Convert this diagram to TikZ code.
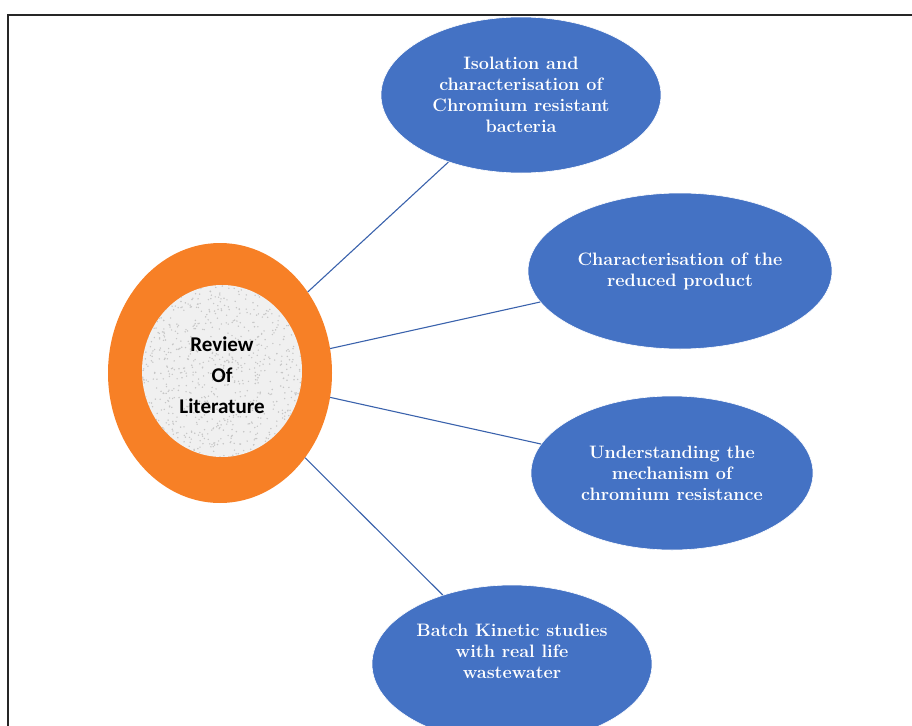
\documentclass[tikz,border=0pt]{standalone}
\usepackage{fontspec}
\newfontfamily\hubfont{Carlito}
\usetikzlibrary{shapes.geometric}
\definecolor{topicblue}{RGB}{68,114,196}
\definecolor{huborange}{RGB}{247,128,38}
\definecolor{linkblue}{RGB}{58,98,172}

\begin{document}
\begin{tikzpicture}[x=1pt,y=-1pt,
    topic/.style={ellipse,fill=topicblue,draw=white,line width=0.6pt,inner sep=0pt,
      text=white,align=center,font=\fontsize{18}{21}\selectfont\bfseries},
    link/.style={draw=linkblue,line width=1.1pt}]
    \useasboundingbox (0,0) rectangle (912,725);
    \clip (0,0) rectangle (912,725);

    % frame
    \draw [line width=2pt,black!85] (8,15) rectangle (940,760);

    % centre: orange ring with speckled disc
    \node [ellipse,fill=huborange,minimum width=224pt,minimum height=260pt] (review) at (220,373) {};
    \fill [gray!12] (222,371) ellipse (80 and 86);
    \begin{scope}
      \clip (222,371) ellipse (80 and 86);
      \pgfmathsetseed{7}
      \foreach \i in {1,...,900}
        \fill [gray!45] (142+160*rnd,285+172*rnd) circle (0.8);
    \end{scope}
    \node [font=\hubfont\bfseries\fontsize{21}{31}\selectfont,align=center] (reviewtext) at (222,375) {Review\\Of\\Literature};

    % topics
    \node [topic,minimum width=280pt,minimum height=156pt] (isolation) at (521,95)
      {Isolation and\\characterisation of\\Chromium resistant\\bacteria};
    \node [topic,minimum width=304pt,minimum height=156pt] (product) at (680,271)
      {Characterisation of the\\reduced product};
    \node [topic,minimum width=282pt,minimum height=154pt] (mechanism) at (672,473)
      {Understanding the\\mechanism of\\chromium resistance};
    \node [topic,minimum width=280pt,minimum height=158pt] (batch) at (512,664) {};
    \node [text=white,align=center,font=\fontsize{18}{21}\selectfont\bfseries] (batchtext) at (512,651)
      {Batch Kinetic studies\\with real life\\wastewater};

    % connectors
    \draw [link] (review) -- (isolation);
    \draw [link] (review) -- (product);
    \draw [link] (review) -- (mechanism);
    \draw [link] (review) -- (batch);
\end{tikzpicture}
\end{document}
